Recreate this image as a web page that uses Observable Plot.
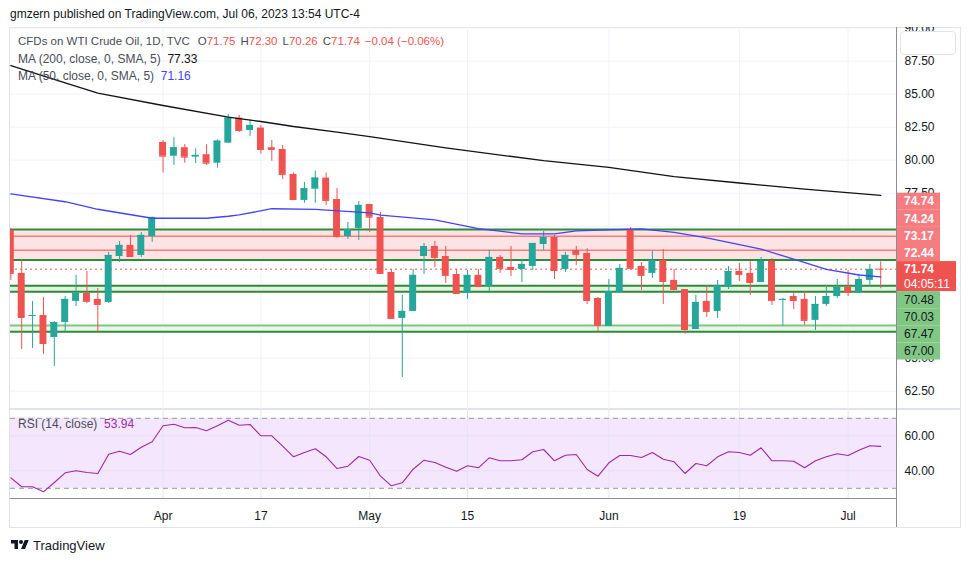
<!DOCTYPE html>
<html><head><meta charset="utf-8">
<script src="https://cdn.jsdelivr.net/npm/d3@7"></script>
<script src="https://cdn.jsdelivr.net/npm/@observablehq/plot@0.6"></script>
<style>
body{margin:0;background:#fff;}
#root{position:relative;width:970px;height:563px;overflow:hidden;font-family:"Liberation Sans",Arial,sans-serif;color:#131722;}
.abs{position:absolute;white-space:nowrap;}
svg{overflow:hidden;}
.g{color:#4a4d57}
</style></head><body><div id="root"></div>
<script>
// ---------- data ----------
const openP  = [74.67,71.42,68.16,68.23,66.57,67.70,69.30,69.90,69.45,69.22,
  72.70,73.54,72.78,74.22,81.34,80.30,80.94,80.23,80.41,79.77,
  81.29,83.18,82.25,82.43,80.94,80.81,78.92,76.95,77.80,78.64,
  77.02,74.22,74.83,76.64,75.66,71.49,68.01,68.54,72.70,73.46,
  72.70,71.34,69.90,71.27,70.43,72.63,71.87,71.72,71.95,73.61,
  74.14,71.72,73.16,72.93,69.52,67.40,69.98,74.75,71.95,71.42,
  72.40,70.89,70.20,67.17,69.30,68.54,70.36,71.57,71.42,70.73,
  72.33,69.37,69.67,69.45,67.86,69.07,69.67,70.36,69.98,70.89,71.75];
const highP  = [74.83,72.48,69.30,69.60,67.78,69.67,71.27,71.57,70.28,73.01,
  73.84,74.30,74.52,75.68,81.49,81.70,81.19,80.86,81.17,81.54,
  83.46,83.39,83.06,82.63,81.49,81.11,79.02,78.31,79.17,79.02,
  77.86,75.28,76.87,76.64,76.04,71.72,69.75,71.72,73.69,73.84,
  73.46,71.72,71.64,71.72,73.16,72.78,73.46,72.48,73.69,74.60,
  74.30,73.01,73.46,73.31,69.60,70.96,72.10,74.90,72.25,73.08,
  73.23,71.72,70.20,69.75,70.43,70.89,71.95,72.17,72.33,72.63,
  72.55,69.52,69.98,70.05,69.67,70.51,70.96,71.64,71.34,72.10,72.30];
const lowP   = [70.89,65.66,65.73,65.28,64.37,67.02,68.92,69.14,66.87,69.14,
  72.25,72.63,72.63,73.77,79.02,79.60,79.77,79.73,79.60,79.40,
  81.29,82.10,81.80,80.45,79.92,78.54,76.95,76.74,76.74,76.57,
  74.07,73.99,73.92,74.52,71.34,67.93,63.54,68.54,71.34,71.87,
  70.66,69.90,69.45,70.43,70.05,71.42,71.19,70.73,71.64,73.16,
  70.96,71.49,72.02,69.07,67.02,67.40,69.98,71.80,70.13,71.04,
  69.07,70.13,66.80,67.17,68.08,68.01,70.20,70.81,69.75,70.73,
  68.99,67.40,68.69,67.48,67.10,68.92,69.52,69.67,69.90,70.36,70.26];
const closeP = [71.42,68.08,68.23,66.11,67.70,69.45,69.90,69.30,69.07,72.78,
  73.54,72.70,74.30,75.66,80.30,80.94,80.23,80.36,79.77,81.44,
  83.18,82.25,82.63,80.81,80.81,78.92,77.02,77.83,78.64,76.95,
  74.22,74.75,76.57,75.68,71.42,68.01,68.54,71.27,73.46,72.63,
  71.27,69.90,71.27,70.43,72.63,71.80,71.72,72.10,73.69,74.14,
  71.64,72.78,72.86,69.37,67.48,70.05,71.80,71.80,71.27,72.40,
  70.81,70.20,67.17,69.22,68.54,70.51,71.57,71.34,70.73,72.33,
  69.37,69.45,69.37,67.86,69.07,69.67,70.36,69.98,70.96,71.72,71.74];

const ma200Idx = [0,5,8,14,20,23,26,30,33,40,49,55,61,67,73,80];
const ma200Val = [87.17,85.85,85.08,84.14,83.26,82.93,82.55,82.13,81.79,80.93,79.96,79.46,78.76,78.27,77.80,77.33];
const ma50Idx  = [0,5,8,13,18,20,21,24,28,33,34,39,43,47,50,52,58,61,64,69,72,75,78,80];
const ma50Val  = [77.45,76.85,76.28,75.60,75.60,75.75,75.85,76.32,76.27,76.00,75.84,75.48,74.82,74.42,74.42,74.65,74.80,74.53,74.12,73.26,72.50,71.73,71.30,71.16];

const rsiVal = [36.0,30.86,30.86,28.0,33.3,38.86,40.0,39.03,38.46,49.49,
  51.2,49.31,53.49,56.57,65.71,66.63,64.57,64.74,62.86,65.71,
  68.91,66.06,66.46,60.0,60.0,54.06,48.0,50.46,52.57,48.0,
  41.31,42.63,48.17,46.06,36.91,31.43,33.14,40.91,46.06,44.74,
  42.0,39.77,42.86,41.71,47.43,45.71,45.71,46.29,50.86,52.17,
  45.71,48.91,49.31,40.74,36.91,44.57,48.74,48.74,47.6,50.46,
  46.63,45.14,38.46,44.17,42.86,48.0,50.86,50.46,48.91,53.14,
  45.71,45.71,45.49,41.71,45.71,48.0,49.71,48.74,51.77,54.29,53.94];

const tickIdx    = [14,23,33,42,55,67,77];
const tickLabels = ["Apr","17","May","15","Jun","19","Jul"];
const priceTicks = [62.5,65,67.5,70,72.5,75,77.5,80,82.5,85,87.5,90];
const rsiTicks   = [40,60];
const rsiBounds  = [30,70];
const resistance = [74.74,74.24,73.17,72.44];
const support    = [70.48,70.03,67.47,67.00];
const lastPrice  = 71.74;
const countdown  = "04:05:11";

// ---------- layout ----------
const FONT = '"Liberation Sans", Arial, sans-serif';
const UP = "#26A69A", DN = "#EF5350";
const xDomain = [-0.03, 81.45];
const root = document.getElementById("root");

const candles = openP.map((o,i)=>({i,o,h:highP[i],l:lowP[i],c:closeP[i]}));
const ups = candles.filter(d=>d.c>=d.o), dns = candles.filter(d=>d.c<d.o);
const ma200 = ma200Idx.map((i,k)=>({i,v:ma200Val[k]}));
const ma50  = ma50Idx.map((i,k)=>({i,v:ma50Val[k]}));
const rsi   = rsiVal.map((v,i)=>({i,v}));
const bw = 0.32;
// axis labels that the level tags fully cover are not shown (as in the reference)
const shownPriceTicks = priceTicks.filter(v => v <= 65 || v >= 77.5);

function candleMarks(data, color){
  return [
    Plot.ruleX(data,{x:"i",y1:"l",y2:"h",stroke:color,strokeWidth:1,clip:true}),
    Plot.rect(data,{x1:d=>d.i-bw,x2:d=>d.i+bw,y1:"o",y2:"c",fill:color,clip:true}),
    Plot.ruleY(data,{x1:d=>d.i-bw,x2:d=>d.i+bw,y:"c",stroke:color,strokeWidth:1,clip:true})
  ];
}

function levelTags(index, scales, values, dims){
  const y = scales.y;
  const x0 = dims.width - dims.marginRight + 1;
  const g = d3.create("svg:g").attr("font-family",FONT).attr("font-size",12).attr("text-anchor","start");
  const cy = y(lastPrice), tagH = 17.1, curTop = cy - 7.6, curH = 30;
  [...resistance].sort((a,b)=>a-b).forEach((v,k)=>{
    const t = curTop-(k+1)*tagH;
    g.append("rect").attr("x",x0).attr("y",t).attr("width",43).attr("height",tagH).attr("fill","#F77C80");
    g.append("text").attr("x",x0+7).attr("y",t+tagH/2).attr("dy","0.35em").attr("fill","#fff").attr("font-weight","bold").text(v.toFixed(2));
  });
  g.append("rect").attr("x",x0).attr("y",curTop).attr("width",59).attr("height",curH).attr("fill",DN);
  g.append("text").attr("x",x0+7).attr("y",curTop+7.8).attr("dy","0.35em").attr("fill","#fff").attr("font-weight","bold").text(lastPrice.toFixed(2));
  g.append("text").attr("x",x0+7).attr("y",curTop+22.6).attr("dy","0.35em").attr("fill","#fff").text(countdown);
  [...support].sort((a,b)=>b-a).forEach((v,k)=>{
    const t = curTop+curH+k*tagH;
    g.append("rect").attr("x",x0).attr("y",t).attr("width",43).attr("height",tagH).attr("fill","#81C784");
    g.append("text").attr("x",x0+7).attr("y",t+tagH/2).attr("dy","0.35em").attr("fill","#131722").text(v.toFixed(2));
  });
  return g.node();
}

const main = Plot.plot({
  width:970, height:382, marginLeft:10, marginRight:74, marginTop:0, marginBottom:0,
  x:{domain:xDomain, axis:null},
  y:{domain:[61.11,90.05]},
  style:{background:"transparent", fontFamily:FONT, fontSize:"12px", overflow:"hidden"},
  marks:[
    Plot.gridX(tickIdx,{stroke:"#F0F3FA",strokeOpacity:1}),
    Plot.gridY(priceTicks,{stroke:"#F0F3FA",strokeOpacity:1}),
    Plot.rect([{a:resistance[3],b:resistance[0]}],{x1:xDomain[0],x2:xDomain[1],y1:"a",y2:"b",fill:"#FCE3E4"}),
    Plot.rect([{a:support[1],b:support[0]}],{x1:xDomain[0],x2:xDomain[1],y1:"a",y2:"b",fill:"#E4F3E0"}),
    Plot.rect([{a:support[3],b:support[2]}],{x1:xDomain[0],x2:xDomain[1],y1:"a",y2:"b",fill:"#EAF6E7"}),
    Plot.ruleY([resistance[1],resistance[2]],{stroke:"#F77C80",strokeWidth:1.6}),
    Plot.ruleY([resistance[0],resistance[3],support[0],support[1],support[3]],{stroke:"#2E8B3A",strokeWidth:2}),
    Plot.ruleY([support[2]],{stroke:"#81C784",strokeWidth:2}),
    Plot.ruleY([lastPrice],{stroke:DN,strokeWidth:1,strokeDasharray:"2,3"}),
    ...candleMarks(ups,UP),
    ...candleMarks(dns,DN),
    Plot.line(ma200,{x:"i",y:"v",stroke:"#131313",strokeWidth:1.3,clip:true}),
    Plot.line(ma50,{x:"i",y:"v",stroke:"#4343FF",strokeWidth:1.3,clip:true}),
    Plot.axisY(shownPriceTicks,{anchor:"right",tickSize:0,tickPadding:8,tickFormat:d=>d.toFixed(2),color:"#131722",label:null}),
    levelTags
  ]
});

const rsiPlot = Plot.plot({
  width:970, height:118, marginLeft:10, marginRight:74, marginTop:0, marginBottom:29,
  x:{domain:xDomain},
  y:{domain:[24.17,75.03]},
  style:{background:"transparent", fontFamily:FONT, fontSize:"12px", overflow:"hidden"},
  marks:[
    Plot.rect([{a:rsiBounds[0],b:rsiBounds[1]}],{x1:xDomain[0],x2:xDomain[1],y1:"a",y2:"b",fill:"#F4E7FD"}),
    Plot.gridX(tickIdx,{stroke:"#EAE2F3",strokeOpacity:1}),
    Plot.gridY(rsiTicks,{stroke:"#E9DCF5",strokeOpacity:1}),
    Plot.ruleY(rsiBounds,{stroke:"#9598A1",strokeDasharray:"5,4",strokeWidth:1}),
    Plot.line(rsi,{x:"i",y:"v",stroke:"#9C27B0",strokeWidth:1.1,clip:true}),
    Plot.axisY(rsiTicks,{anchor:"right",tickSize:0,tickPadding:8,tickFormat:d=>d.toFixed(2),color:"#131722",label:null}),
    Plot.axisX(tickIdx,{anchor:"bottom",tickSize:0,tickPadding:13,tickFormat:d=>tickLabels[tickIdx.indexOf(d)],color:"#131722",label:null})
  ]
});

function box(left,top,w,h,css){const d=document.createElement("div");d.className="abs";d.style.cssText=`left:${left}px;top:${top}px;width:${w}px;height:${h}px;`+css;root.appendChild(d);return d;}
function txt(html,left,top,css){const d=document.createElement("div");d.className="abs";d.style.cssText=`left:${left}px;top:${top}px;`+(css||"");d.innerHTML=html;root.appendChild(d);return d;}

// frame
box(9,27,952,501,"border:1px solid #E0E3EB;box-sizing:border-box;");
box(10,408,951,2,"background:#E0E3EB;");
// plots
main.style.position="absolute"; main.style.left="0px"; main.style.top="27px"; root.appendChild(main);
rsiPlot.style.position="absolute"; rsiPlot.style.left="0px"; rsiPlot.style.top="409px"; root.appendChild(rsiPlot);
// axis borders
box(896,27,1,500,"background:#8A8D96;");
box(10,498,887,1,"background:#8A8D96;");
box(900,31,56,24,"border:1px solid #E0E3EB;border-radius:4px;box-sizing:border-box;");

// texts
txt("gmzern published on TradingView.com, Jul 06, 2023 13:54 UTC-4",10,7,"font-size:12px;color:#131722;");
const red = "color:#EF5350";
txt(`<span class="g">CFDs on WTI Crude Oil, 1D, TVC</span><span class="g" style="margin-left:8px">O</span><span style="${red}">71.75</span><span class="g" style="margin-left:5px">H</span><span style="${red}">72.30</span><span class="g" style="margin-left:5px">L</span><span style="${red}">70.26</span><span class="g" style="margin-left:5px">C</span><span style="${red}">71.74</span><span style="${red};margin-left:5px">−0.04 (−0.06%)</span>`,18,35,"font-size:11.5px;");
txt(`<span class="g">MA (200, close, 0, SMA, 5)</span>&nbsp;&nbsp;<span style="color:#131313">77.33</span>`,18,52,"font-size:12px;");
txt(`<span class="g">MA (50, close, 0, SMA, 5)</span>&nbsp;&nbsp;<span style="color:#4343FF">71.16</span>`,18,69,"font-size:12px;");
txt(`<span class="g">RSI (14, close)</span>&nbsp;&nbsp;<span style="color:#9C27B0">53.94</span>`,18,417,"font-size:12px;");
// logo
txt(`<svg width="22" height="14" viewBox="0 0 36 28" style="vertical-align:-2px"><path d="M14 22H7V11H0V4h14v18zM28 22h-8l7.5-18h8L28 22z" fill="#131722"/><circle cx="20" cy="8" r="4" fill="#131722"/></svg><span style="margin-left:2px">TradingView</span>`,9,538,"font-size:13px;color:#131722;");
</script></body></html>
